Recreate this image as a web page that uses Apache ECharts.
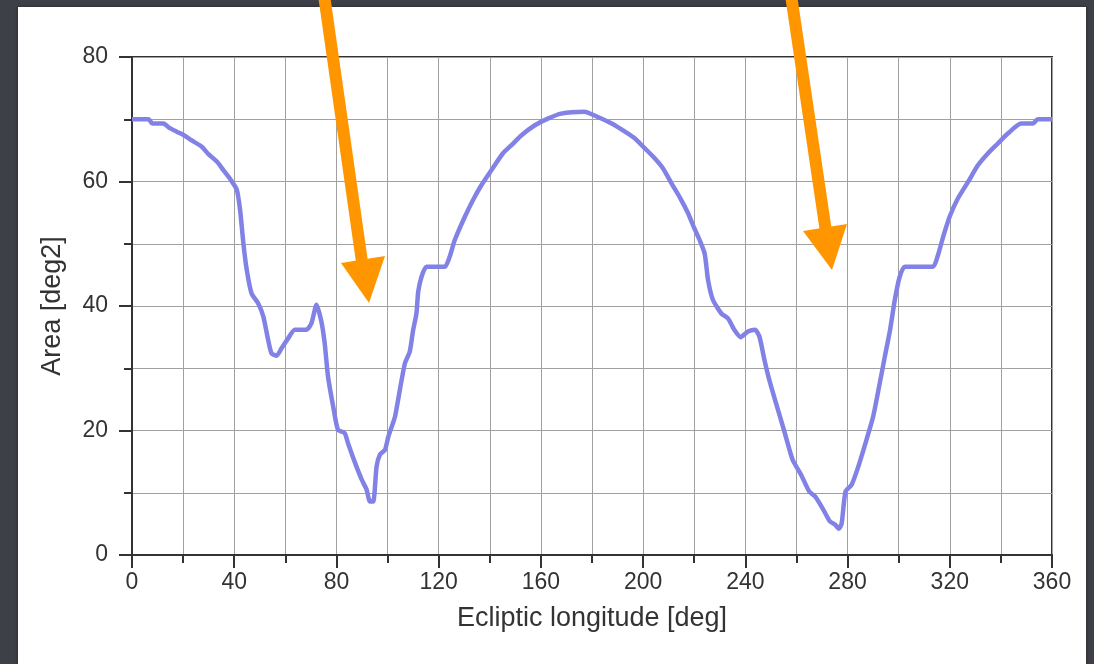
<!DOCTYPE html>
<html>
<head>
<meta charset="utf-8">
<script src="https://cdn.jsdelivr.net/npm/echarts@6/dist/echarts.min.js"></script>
<style>
  html, body { margin: 0; padding: 0; }
  body { width: 1094px; height: 664px; background: #3d4047; overflow: hidden; position: relative; }
  #panel { position: absolute; left: 18px; top: 7px; width: 1068px; height: 670px; background: #fff; box-shadow: 0 0 4px rgba(0,0,0,0.4); }
  #main { position: absolute; left: 0; top: 0; width: 1094px; height: 664px; }
</style>
</head>
<body>
<div id="panel"></div>
<div id="main"></div>
<script>
// ecliptic longitude [deg] and area [deg2]
var lon = [0, 6.5, 8, 12.4, 14.3, 17.5, 20, 23.4, 27.3, 29.9, 33.2, 35.8, 38.4, 41, 42.3, 43.6, 44.9, 46.8, 49.4, 51.4,
  53.3, 54.6, 56.6, 58.5, 61.1, 63.7, 68.3, 70.2, 72.2, 74.1, 75.4, 76.7, 78.7, 80.6, 83.2, 84.5, 87.1, 89.9, 91.8, 93.1,
  94.4, 95.7, 97, 99, 100.3, 102.9, 104.8, 106.8, 108.7, 110, 111.3, 112, 113.3, 115.2, 122.4, 124.3, 126.3, 130.2, 133.4, 136.7,
  140.6, 145.1, 148.4, 152.3, 157.5, 162.7, 167.9, 177, 181, 187.7, 192.9, 196.8, 200, 203.9, 207.8, 211.1, 214.3, 217.6, 219.5, 222.1,
  224.1, 225.4, 227.3, 230.6, 233.2, 235.8, 238.1, 241, 243.8, 245.5, 247.5, 249.4, 252, 255.3, 258.5, 261.8, 265, 267.3, 270.5, 273.1,
  275.1, 276.6, 277.7, 279.2, 281.6, 284.2, 287.4, 290, 292.6, 294.6, 296.6, 298.5, 300.4, 302.4, 313.4, 315.4, 317.4, 319.9, 323.2, 327.1,
  331, 334.9, 338.8, 342.7, 347.9, 352.5, 354.4, 360];
var area = [70, 70, 69.3, 69.3, 68.7, 68, 67.5, 66.6, 65.6, 64.4, 63.2, 61.8, 60.4, 58.7, 55.4, 50, 45.8, 42, 40.4, 38.3,
  34.5, 32.4, 32, 33.2, 34.8, 36.2, 36.2, 37.2, 40.2, 37.5, 34, 28.7, 23.9, 20.1, 19.6, 18, 15, 12.1, 10.5, 8.6,
  8.6, 14.2, 16.1, 16.9, 19, 22.2, 26.5, 30.8, 32.7, 36.1, 38.8, 42.3, 44.7, 46.3, 46.3, 47.9, 50.6, 54.3, 57, 59.4,
  61.8, 64.5, 65.8, 67.4, 69, 70.1, 70.9, 71.2, 70.6, 69.3, 68, 66.9, 65.6, 64, 62.1, 59.7, 57.5, 54.9, 53, 50.6,
  48.4, 44.2, 41, 38.8, 38, 36.1, 35, 35.9, 36.2, 35.1, 31.3, 28.1, 24.4, 19.8, 15.3, 12.9, 10.2, 9.4, 7.3, 5.4,
  4.9, 4.2, 5.1, 10.2, 11.3, 14.2, 18.5, 22.2, 27.6, 31.9, 36.1, 41, 44.7, 46.3, 46.3, 48.2, 51.1, 54.3, 57.3, 59.9,
  62.6, 64.5, 66.1, 67.7, 69.3, 69.3, 70, 70];

var xTicks = [0, 40, 80, 120, 160, 200, 240, 280, 320, 360];
var yTicks = [0, 20, 40, 60, 80];

var pts = lon.map(function (x, i) { return [x, area[i]]; });

var font = '"Liberation Sans", Arial, Helvetica, sans-serif';
var gridLine = { show: true, lineStyle: { color: '#a0a0a0', width: 1 } };

var myChart = echarts.init(document.getElementById('main'), null, { renderer: 'canvas' });
myChart.setOption({
  backgroundColor: 'transparent',
  animation: false,
  grid: { left: 132, right: 42, top: 57, bottom: 109, show: true, borderColor: '#333', borderWidth: 2 },
  xAxis: {
    type: 'value', min: xTicks[0], max: xTicks[xTicks.length - 1], interval: 40,
    name: 'Ecliptic longitude [deg]', nameLocation: 'middle', nameGap: 50,
    nameTextStyle: { fontFamily: font, fontSize: 27, color: '#333' },
    axisLine: { lineStyle: { color: '#333', width: 2 } },
    axisTick: { length: 13, lineStyle: { color: '#333', width: 2 } },
    minorTick: { show: true, splitNumber: 2, length: 8, lineStyle: { color: '#333', width: 2 } },
    axisLabel: { fontFamily: font, fontSize: 23, color: '#333', margin: 16 },
    splitLine: gridLine,
    minorSplitLine: gridLine
  },
  yAxis: {
    type: 'value', min: yTicks[0], max: yTicks[yTicks.length - 1], interval: 20,
    name: 'Area [deg2]', nameLocation: 'middle', nameGap: 66,
    nameTextStyle: { fontFamily: font, fontSize: 27, color: '#333' },
    axisLine: { show: true, lineStyle: { color: '#333', width: 2 } },
    axisTick: { show: true, length: 13, lineStyle: { color: '#333', width: 2 } },
    minorTick: { show: true, splitNumber: 2, length: 8, lineStyle: { color: '#333', width: 2 } },
    axisLabel: { fontFamily: font, fontSize: 23, color: '#333', margin: 24, padding: [5, 0, 0, 0] },
    splitLine: gridLine,
    minorSplitLine: gridLine
  },
  series: [{
    type: 'line',
    data: pts,
    showSymbol: false,
    smooth: 0.2,
    lineStyle: { color: '#8282e6', width: 4.5 },
    z: 5
  }],
  graphic: [
    { type: 'line', z: 100, shape: { x1: 324, y1: -5, x2: 362, y2: 262 }, style: { stroke: '#ff9600', lineWidth: 12 } },
    { type: 'polygon', z: 100, shape: { points: [[341, 263], [385, 256], [369, 303]] }, style: { fill: '#ff9600' } },
    { type: 'line', z: 100, shape: { x1: 791, y1: -5, x2: 826, y2: 232 }, style: { stroke: '#ff9600', lineWidth: 12 } },
    { type: 'polygon', z: 100, shape: { points: [[803, 231], [847, 224], [832, 270]] }, style: { fill: '#ff9600' } }
  ]
});
</script>
</body>
</html>
